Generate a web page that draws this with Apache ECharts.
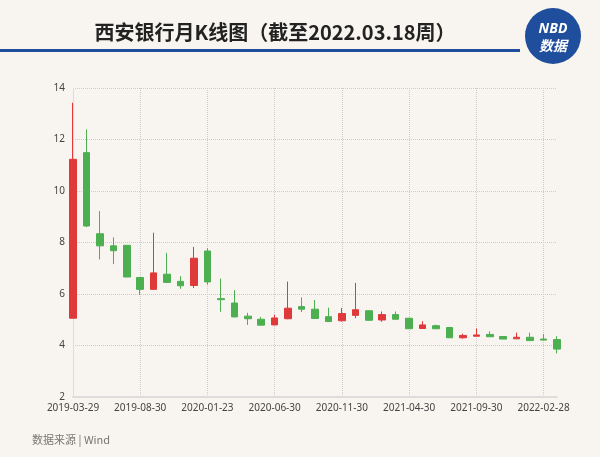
<!DOCTYPE html>
<html><head><meta charset="utf-8">
<script src="https://cdn.jsdelivr.net/npm/echarts@6/dist/echarts.min.js"></script>
<style>html,body{margin:0;padding:0;background:#f8f5f0;}#c{width:600px;height:457px;}</style>
</head><body><div id="c"></div>
<script>
const categories = ["2019-03-29","2019-04-30","2019-05-31","2019-06-28","2019-07-31","2019-08-30","2019-09-30","2019-10-31","2019-11-29","2019-12-31","2020-01-23","2020-02-28","2020-03-31","2020-04-30","2020-05-29","2020-06-30","2020-07-31","2020-08-31","2020-09-30","2020-10-30","2020-11-30","2020-12-31","2021-01-29","2021-02-26","2021-03-31","2021-04-30","2021-05-31","2021-06-30","2021-07-30","2021-08-31","2021-09-30","2021-10-29","2021-11-30","2021-12-31","2022-01-28","2022-02-28","2022-03-18"];
// [open, close, low, high]
const ohlc = [
[5.06,11.23,5.06,13.43],[11.49,8.64,8.6,12.39],[8.34,7.87,7.34,9.22],[7.87,7.68,7.16,8.2],
[7.89,6.66,6.65,7.9],[6.64,6.18,5.97,6.65],[6.18,6.82,6.17,8.38],[6.77,6.45,6.44,7.6],
[6.49,6.32,6.2,6.69],[6.33,7.39,6.23,7.83],[7.67,6.47,6.36,7.78],[5.82,5.78,5.31,6.6],
[5.65,5.11,5.1,6.15],[5.14,5.04,4.8,5.27],[5.02,4.79,4.78,5.11],[4.8,5.07,4.79,5.19],
[5.04,5.45,5.02,6.48],[5.51,5.41,5.3,5.87],[5.41,5.05,5.04,5.77],[5.12,4.93,4.92,5.47],
[4.96,5.24,4.93,5.46],[5.17,5.39,5.06,6.43],[5.35,4.98,4.97,5.36],[4.99,5.2,4.92,5.32],
[5.2,5.02,5.0,5.32],[5.06,4.65,4.64,5.07],[4.66,4.8,4.65,4.94],[4.77,4.65,4.64,4.81],
[4.7,4.3,4.29,4.71],[4.3,4.39,4.26,4.46],[4.36,4.41,4.35,4.66],[4.43,4.34,4.33,4.55],
[4.35,4.25,4.25,4.36],[4.26,4.32,4.25,4.5],[4.32,4.19,4.18,4.5],[4.25,4.21,4.2,4.44],
[4.23,3.86,3.69,4.36]];
const yTicks = [2,4,6,8,10,12,14];
const chart = echarts.init(document.getElementById('c'));
chart.setOption({
  backgroundColor:'#f8f5f0',
  animation:false,
  title:{text:'西安银行月K线图（截至2022.03.18周）',left:270,top:17,textAlign:'center',
    textStyle:{fontSize:20,fontWeight:'bold',color:'#222',fontFamily:'Noto Sans CJK SC'}},
  graphic:[
    {type:'rect',shape:{x:0,y:49,width:520,height:3},style:{fill:'#1f4e9c'}},
    {type:'circle',shape:{cx:553,cy:36,r:28},style:{fill:'#1f4e9c'}},
    {type:'text',style:{x:553,y:29,text:'NBD',fill:'#fff',font:'bold italic 14px Noto Sans',textAlign:'center',textVerticalAlign:'middle'}},
    {type:'text',style:{x:553,y:46,text:'数据',fill:'#fff',font:'bold italic 14px Noto Sans CJK SC',textAlign:'center',textVerticalAlign:'middle'}},
    {type:'text',style:{x:32,y:434,text:'数据来源 | Wind',fill:'#777',font:'11px Noto Sans CJK SC'}}
  ],
  grid:{left:73,right:43,top:88,bottom:60},
  xAxis:{type:'category',data:categories,boundaryGap:false,
    axisLine:{lineStyle:{color:'#ddd',width:2}},axisTick:{show:false},
    axisLabel:{interval:4,color:'#444',fontSize:10,margin:6,fontFamily:'Noto Sans'},
    splitLine:{show:true,interval:4,lineStyle:{type:'dotted',color:'#ccc'}}},
  yAxis:{type:'value',min:2,max:14,interval:2,
    axisLine:{show:true,lineStyle:{color:'#ddd',width:1}},axisTick:{show:false},
    axisLabel:{color:'#444',fontSize:10,fontFamily:'Noto Sans'},
    splitLine:{lineStyle:{type:'dotted',color:'#ccc'}}},
  series:[{type:'candlestick',data:ohlc,barWidth:7,clip:false,
    itemStyle:{color:'#e0393a',color0:'#4caf50',borderColor:'#e0393a',borderColor0:'#4caf50',borderWidth:1}}]
});
</script></body></html>
